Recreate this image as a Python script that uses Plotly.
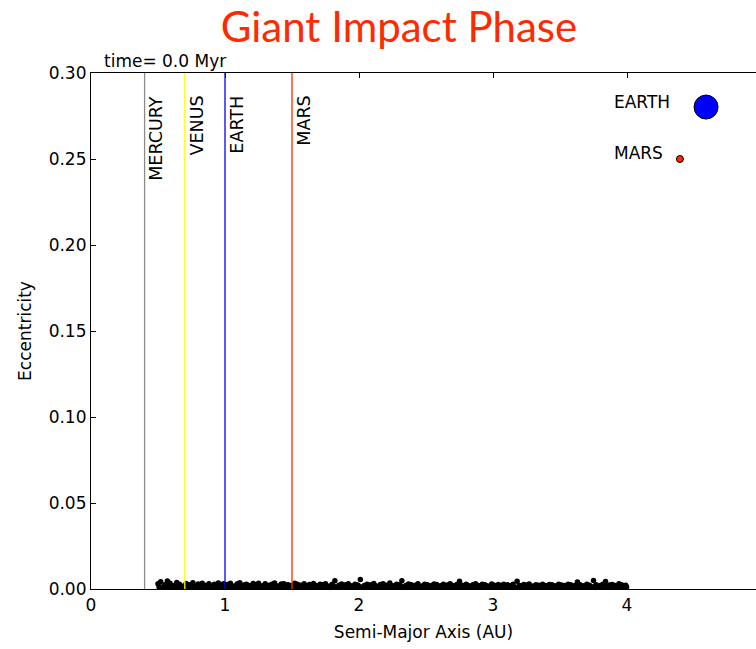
import plotly.graph_objects as go

# ---- data ----
planet_names = ["MERCURY", "VENUS", "EARTH", "MARS"]
planet_a = [0.40, 0.70, 1.00, 1.50]
planet_colors = ["#8c8c8c", "#ffff00", "#0000ff", "#ff2a00"]

emb_a = [0.50,0.52,0.55,0.57,0.59,0.62,0.64,0.66,0.69,0.71,0.73,0.76,0.78,0.80,0.83,0.85,0.88,0.90,0.92,0.95,
         0.97,0.99,1.02,1.04,1.06,1.09,1.11,1.14,1.16,1.18,1.21,1.23,1.25,1.28,1.30,1.33,1.35,1.37,1.40,1.42,
         1.44,1.47,1.49,1.52,1.54,1.56,1.59,1.61,1.63,1.66,1.68,1.71,1.73,1.75,1.78,1.80,1.82,1.85,1.87,1.90,
         1.92,1.94,1.97,1.99,2.01,2.04,2.06,2.09,2.11,2.13,2.16,2.18,2.20,2.23,2.25,2.28,2.30,2.32,2.35,2.37,
         2.39,2.42,2.44,2.47,2.49,2.51,2.54,2.56,2.58,2.61,2.63,2.66,2.68,2.70,2.73,2.75,2.77,2.80,2.82,2.85,
         2.87,2.89,2.92,2.94,2.96,2.99,3.01,3.04,3.06,3.08,3.11,3.13,3.15,3.18,3.20,3.23,3.25,3.27,3.30,3.32,
         3.34,3.37,3.39,3.42,3.44,3.46,3.49,3.51,3.53,3.56,3.58,3.61,3.63,3.65,3.68,3.70,3.72,3.75,3.77,3.80,
         3.82,3.84,3.87,3.89,3.91,3.94,3.96,3.99]
emb_e = [0.0030,0.0042,0.0025,0.0046,0.0033,0.0020,0.0038,0.0028,0.0015,0.0032,0.0024,0.0036,0.0019,0.0029,0.0034,0.0022,0.0031,0.0018,0.0027,0.0035,
         0.0021,0.0030,0.0026,0.0033,0.0017,0.0029,0.0036,0.0023,0.0028,0.0020,0.0032,0.0025,0.0034,0.0019,0.0030,0.0022,0.0027,0.0035,0.0018,0.0029,
         0.0031,0.0024,0.0020,0.0033,0.0027,0.0022,0.0030,0.0019,0.0026,0.0032,0.0021,0.0028,0.0024,0.0030,0.0018,0.0027,0.0048,0.0022,0.0029,0.0025,
         0.0031,0.0019,0.0027,0.0023,0.0055,0.0020,0.0028,0.0024,0.0032,0.0018,0.0026,0.0030,0.0022,0.0035,0.0019,0.0027,0.0024,0.0048,0.0020,0.0029,
         0.0025,0.0022,0.0030,0.0018,0.0027,0.0024,0.0021,0.0029,0.0026,0.0019,0.0028,0.0023,0.0031,0.0020,0.0026,0.0045,0.0022,0.0028,0.0019,0.0025,
         0.0030,0.0021,0.0027,0.0024,0.0018,0.0029,0.0022,0.0026,0.0020,0.0028,0.0024,0.0019,0.0027,0.0045,0.0021,0.0026,0.0023,0.0029,0.0018,0.0025,
         0.0022,0.0028,0.0020,0.0026,0.0024,0.0019,0.0027,0.0023,0.0021,0.0028,0.0025,0.0020,0.0040,0.0024,0.0019,0.0027,0.0022,0.0050,0.0025,0.0021,
         0.0028,0.0044,0.0023,0.0026,0.0020,0.0031,0.0024,0.0022]

emb_a2 = [0.51,0.535,0.56,0.58,0.605,0.63,0.65,0.675,0.70,0.72,
          0.745,0.77,0.79,0.815,0.84,0.865,0.89,0.91,0.935,0.96,
          0.98,1.005,1.03,1.05,1.075,1.10,1.125,1.15,1.17,1.195,
          1.22,1.24,1.265,1.29,1.315,1.34,1.36,1.385,1.41,1.43,
          1.455,1.48,1.505,1.53,1.55,1.575,1.60,1.62,1.645,1.67,
          1.695,1.72,1.74,1.765,1.79,1.81,1.835,1.86,1.885,1.91,
          1.93,1.955,1.98,2.00,2.025,2.05,2.075,2.10,2.12,2.145,
          2.17,2.19,2.215,2.24,2.265,2.29,2.31,2.335,2.36,2.38,
          2.405,2.43,2.455,2.48,2.50,2.525,2.55,2.57,2.595,2.62,
          2.645,2.67,2.69,2.715,2.74,2.76,2.785,2.81,2.835,2.86,
          2.88,2.905,2.93,2.95,2.975,3.00,3.025,3.05,3.07,3.095,
          3.12,3.14,3.165,3.19,3.215,3.24,3.26,3.285,3.31,3.33,
          3.355,3.38,3.405,3.43,3.45,3.475,3.50,3.52,3.545,3.57,
          3.595,3.62,3.64,3.665,3.69,3.71,3.735,3.76,3.785,3.81,
          3.83,3.855,3.88,3.90,3.925,3.95,3.975,3.995]
emb_e2 = [0.0012,0.0008,0.0015,0.0010,0.0006,0.0013,0.0009,0.0016,0.0011,0.0007,
          0.0014,0.0010,0.0005,0.0012,0.0016,0.0008,0.0011,0.0014,0.0006,0.0012,
          0.0009,0.0015,0.0011,0.0007,0.0013,0.0010,0.0016,0.0008,0.0012,0.0014,
          0.0006,0.0011,0.0015,0.0009,0.0013,0.0007,0.0012,0.0016,0.0010,0.0008,
          0.0014,0.0011,0.0006,0.0013,0.0015,0.0009,0.0012,0.0007,0.0014,0.0010,
          0.0016,0.0008,0.0012,0.0011,0.0006,0.0014,0.0009,0.0013,0.0010,0.0015,
          0.0007,0.0012,0.0011,0.0014,0.0008,0.0013,0.0010,0.0006,0.0015,0.0011,
          0.0009,0.0013,0.0012,0.0007,0.0014,0.0010,0.0016,0.0008,0.0012,0.0011,
          0.0006,0.0014,0.0009,0.0013,0.0010,0.0015,0.0007,0.0012,0.0011,0.0014,
          0.0008,0.0013,0.0010,0.0006,0.0015,0.0011,0.0009,0.0013,0.0012,0.0007,
          0.0014,0.0010,0.0016,0.0008,0.0012,0.0011,0.0006,0.0014,0.0009,0.0013,
          0.0010,0.0015,0.0007,0.0012,0.0011,0.0014,0.0008,0.0013,0.0010,0.0006,
          0.0015,0.0011,0.0009,0.0013,0.0012,0.0007,0.0014,0.0010,0.0016,0.0008,
          0.0012,0.0011,0.0006,0.0014,0.0009,0.0013,0.0010,0.0015,0.0007,0.0012,
          0.0011,0.0014,0.0008,0.0013,0.0010,0.0009,0.0012,0.0011]

legend_names = ["EARTH", "MARS"]
legend_a = [4.59, 4.395]
legend_e = [0.2802, 0.2500]
legend_label_a = [3.885, 3.885]
legend_label_e = [0.2831, 0.2535]
legend_colors = ["#0000ff", "#ff2a00"]
legend_sizes = [24, 7]

time_text = "time= 0.0 Myr"
x_ticks = [0, 1, 2, 3, 4, 5]
y_ticks = [0.00, 0.05, 0.10, 0.15, 0.20, 0.25, 0.30]

FONT = "DejaVu Sans"
FS = 17

fig = go.Figure()

fig.add_trace(go.Scatter(
    x=emb_a2, y=emb_e2, mode="markers",
    marker=dict(color="black", size=6, opacity=1, line=dict(width=0)),
    showlegend=False, hoverinfo="skip"))
fig.add_trace(go.Scatter(
    x=emb_a, y=emb_e, mode="markers",
    marker=dict(color="black", size=5.5, opacity=1, line=dict(width=0)),
    showlegend=False, hoverinfo="skip"))

for name, a, c in zip(planet_names, planet_a, planet_colors):
    fig.add_shape(type="line", xref="x", yref="paper", x0=a, x1=a, y0=0, y1=1,
                  line=dict(color=c, width=1.3), layer="above")
    fig.add_annotation(x=a, y=0.2880, xref="x", yref="y", text=name, textangle=-90,
                       showarrow=False, xanchor="left", yanchor="top", xshift=0,
                       font=dict(family=FONT, size=17.5, color="black"))

fig.add_trace(go.Scatter(
    x=legend_a, y=legend_e, mode="markers",
    marker=dict(color=legend_colors, size=legend_sizes, opacity=1,
                line=dict(color="black", width=1)),
    showlegend=False, hoverinfo="skip"))

for name, a, e in zip(legend_names, legend_label_a, legend_label_e):
    fig.add_annotation(x=a, y=e, xref="x", yref="y", text=name, showarrow=False,
                       xanchor="left", yanchor="middle",
                       font=dict(family=FONT, size=FS, color="black"))

fig.add_annotation(x=11/665, y=1, xref="paper", yref="paper", text=time_text,
                   showarrow=False, xanchor="left", yanchor="bottom", yshift=0,
                   font=dict(family=FONT, size=FS, color="black"))

fig.update_layout(
    width=756, height=649,
    margin=dict(l=91, r=0, t=73, b=60),
    paper_bgcolor="white", plot_bgcolor="white",
    title=dict(text="Giant Impact Phase", xref="container", yref="container",
               x=399/756, y=1-27/649, xanchor="center", yanchor="middle",
               font=dict(family="Lato", size=42, color="#ff2a00")),
    font=dict(family=FONT, size=FS, color="black"),
)
fig.update_xaxes(range=[0, 665/134], tickvals=x_ticks, ticks="inside", ticklen=5,
                 tickcolor="black", showline=True, linecolor="black", linewidth=1.2,
                 mirror="ticks", showgrid=False, zeroline=False,
                 title=dict(text="Semi-Major Axis (AU)", standoff=12,
                            font=dict(family=FONT, size=FS)),
                 tickfont=dict(family=FONT, size=FS))
fig.update_yaxes(range=[0, 0.30], tickvals=y_ticks, tickformat=".2f", ticks="inside",
                 ticklen=5, tickcolor="black", showline=True, linecolor="black",
                 linewidth=1.2, mirror=False, showgrid=False, zeroline=False,
                 title=dict(text="Eccentricity", standoff=12, font=dict(family=FONT, size=FS)),
                 tickfont=dict(family=FONT, size=FS))

fig.write_html("out.html")
